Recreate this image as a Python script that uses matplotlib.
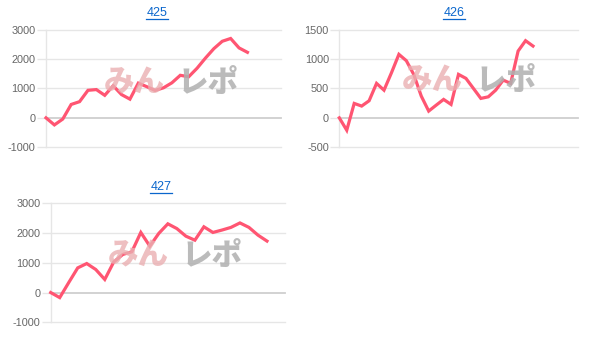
import matplotlib
matplotlib.use("Agg")
import matplotlib.pyplot as plt
from matplotlib.lines import Line2D

plt.rcParams['font.family'] = ['Liberation Sans', 'DejaVu Sans']

# ---- data ----
titles = ["425", "426", "427"]
slots = [29, 33, 27]  # number of category labels on each x axis
values_425 = [0, -240, -40, 455, 550, 935, 960, 765, 1090, 790, 635, 1180, 1060,
              930, 1020, 1190, 1445, 1395, 1685, 2030, 2350, 2600, 2695, 2375, 2225]
values_426 = [0, -210, 245, 200, 290, 585, 470, 765, 1078, 970, 735, 370, 115,
              215, 313, 228, 738, 670, 500, 330, 357, 471, 641, 585, 1134, 1310, 1219]
values_427 = [0, -170, 335, 830, 975, 775, 440, 1030, 1280, 1370, 2020, 1560, 1990,
              2310, 2150, 1895, 1760, 2210, 2020, 2100, 2190, 2340, 2190, 1930, 1730]
yticks_425 = [-1000, 0, 1000, 2000, 3000]
yticks_426 = [-500, 0, 500, 1000, 1500]
yticks_427 = [-1000, 0, 1000, 2000, 3000]

series = [values_425, values_426, values_427]
yticks = [yticks_425, yticks_426, yticks_427]

W, H = 606, 349
fig = plt.figure(figsize=(W / 100, H / 100), dpi=100)

# axes boxes in pixels: left, top, right, bottom
boxes = [(46, 29.5, 281, 147.3), (339.3, 29.5, 577.7, 147.3), (50.7, 203.3, 285, 322.3)]
title_pos = [(157, 13), (454, 13), (161, 186.5)]
mark_pos = [(172, 82), (470, 80), (176, 255)]

LINE = '#ff5572'
GRID = '#e6e6e6'
ZERO = '#cfcfcf'

for i in range(3):
    l, t, r, b = boxes[i]
    ax = fig.add_axes([l / W, 1 - b / H, (r - l) / W, (b - t) / H])
    vals = series[i]
    ticks = yticks[i]
    ax.set_xlim(0, slots[i] - 1)
    ax.set_ylim(ticks[0], ticks[-1])
    ax.set_yticks(ticks)
    ax.set_yticklabels([str(v) for v in ticks])
    ax.set_xticks([])
    for s in ['top', 'right', 'bottom']:
        ax.spines[s].set_visible(False)
    ax.spines['left'].set_color(GRID)
    ax.spines['left'].set_linewidth(1)
    ax.tick_params(axis='y', length=6.5, width=1, color=GRID, pad=1,
                   labelsize=7.8, labelcolor='#666666')
    for v in ticks:
        ax.axhline(v, color=ZERO if v == 0 else GRID,
                   lw=1.3 if v == 0 else 1.0, zorder=0.5, clip_on=False)
    ax.patch.set_alpha(0)
    # watermark
    mx, my = mark_pos[i]
    fig.text((mx - 38) / W, 1 - my / H, "みん", ha='center', va='center',
             fontsize=22, fontweight='heavy', color='#eab0b2', alpha=0.8,
             family=['Noto Sans CJK JP', 'DejaVu Sans'], zorder=0)
    fig.text((mx + 36) / W, 1 - my / H, "レポ", ha='center', va='center',
             fontsize=22, fontweight='heavy', color='#b0b0b0', alpha=0.85,
             family=['Noto Sans CJK JP', 'DejaVu Sans'], zorder=0)
    ax.plot(range(len(vals)), vals, color=LINE, lw=2.3, solid_joinstyle='miter',
            zorder=3, clip_on=False)
    # title (link style)
    tx, ty = title_pos[i]
    fig.text(tx / W, 1 - ty / H, titles[i], ha='center', va='center',
             fontsize=9, color='#0a66cc')
    fig.lines.append(Line2D([(tx - 11) / W, (tx + 11) / W],
                            [1 - (ty + 6) / H, 1 - (ty + 6) / H],
                            transform=fig.transFigure, color='#0a66cc', lw=0.9))

fig.savefig('out.png', dpi=100)
